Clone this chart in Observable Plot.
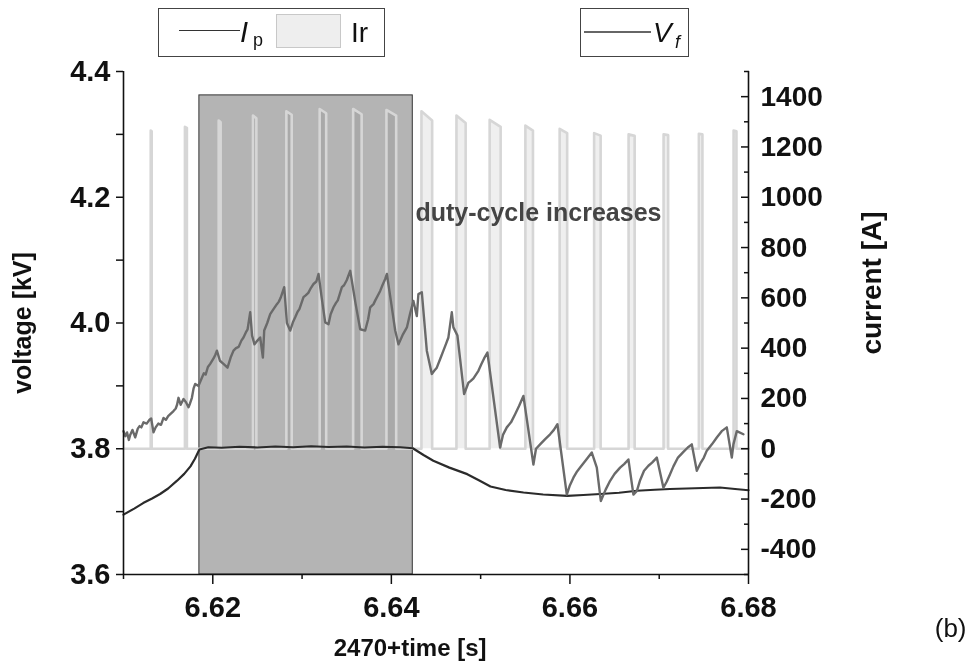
<!DOCTYPE html>
<html>
<head>
<meta charset="utf-8">
<script src="https://cdn.jsdelivr.net/npm/d3@7"></script>
<script src="https://cdn.jsdelivr.net/npm/@observablehq/plot@0.6"></script>
<style>
  body { margin: 0; background: #fff; }
  #wrap { position: relative; width: 978px; height: 670px; font-family: "Liberation Sans", Arial, sans-serif; }
  #legend { position: relative; width: 978px; height: 62px; }
  #legend .a { position: absolute; line-height: 1; white-space: nowrap; color: #111; }
  #legend .box { position: absolute; box-sizing: border-box; border: 1px solid #444; }
</style>
</head>
<body>
<div id="wrap">
  <div id="legend">
    <div class="box" style="left:158px;top:8px;width:227px;height:49px"></div>
    <div class="a" style="left:179px;top:30px;width:61px;border-top:1.5px solid #333"></div>
    <div class="a" style="left:240px;top:18px;font-size:29px;font-style:italic">I</div>
    <div class="a" style="left:253px;top:31px;font-size:18px">p</div>
    <div class="a" style="left:276px;top:14px;width:65px;height:34px;box-sizing:border-box;background:#eeeeee;border:1px solid #c8c8c8"></div>
    <div class="a" style="left:351px;top:19px;font-size:28px">Ir</div>
    <div class="box" style="left:580px;top:8px;width:109px;height:49px"></div>
    <div class="a" style="left:584px;top:31px;width:67px;border-top:2px solid #666"></div>
    <div class="a" style="left:653px;top:19px;font-size:28px;font-style:italic">V</div>
    <div class="a" style="left:675px;top:33px;font-size:18px;font-style:italic">f</div>
  </div>
  <div id="chart"></div>
</div>
<script>
// ---- axes ----
const xDomain = [6.61, 6.68];
const vDomain = [3.6, 4.4];
const xTicks = [6.62, 6.64, 6.66, 6.68];
const xMinorTicks = [6.61, 6.63, 6.65, 6.67];
const vTicks = [3.6, 3.8, 4.0, 4.2, 4.4];
const vMinorTicks = [3.7, 3.9, 4.1, 4.3];
const cTicks = [-400, -200, 0, 200, 400, 600, 800, 1000, 1200, 1400];
const cMinorTicks = [-500, -300, -100, 100, 300, 500, 700, 900, 1100, 1300, 1500];
// current axis: 0 A at 3.8 kV, 2500 A per kV
const cZeroKV = 3.8;
const ampPerKV = 2500;

// ---- shaded interval ----
const shadedStart = 6.6185;
const shadedEnd = 6.6424;
const shadedTopA = 1405;

// ---- Vf (kV) ----
const vfTime = [6.61000, 6.61020, 6.61040, 6.61060, 6.61075, 6.61100, 6.61131, 6.61160, 6.61180, 6.61200, 6.61224, 6.61260, 6.61291, 6.61310, 6.61336, 6.61360, 6.61390, 6.61420, 6.61448, 6.61475, 6.61500, 6.61530, 6.61560, 6.61585, 6.61600, 6.61616, 6.61640, 6.61672, 6.61700, 6.61728, 6.61745, 6.61766, 6.61785, 6.61803, 6.61840, 6.61878, 6.61900, 6.61920, 6.61945, 6.61971, 6.62010, 6.62030, 6.62046, 6.62080, 6.62120, 6.62165, 6.62200, 6.62232, 6.62260, 6.62290, 6.62320, 6.62344, 6.62370, 6.62390, 6.62419, 6.62440, 6.62467, 6.62500, 6.62531, 6.62561, 6.62576, 6.62610, 6.62643, 6.62680, 6.62718, 6.62740, 6.62760, 6.62800, 6.62830, 6.62867, 6.62900, 6.62923, 6.62950, 6.62970, 6.63016, 6.63040, 6.63070, 6.63100, 6.63128, 6.63160, 6.63184, 6.63220, 6.63259, 6.63296, 6.63320, 6.63352, 6.63380, 6.63400, 6.63446, 6.63470, 6.63500, 6.63539, 6.63600, 6.63651, 6.63707, 6.63740, 6.63763, 6.63800, 6.63820, 6.63875, 6.63900, 6.63931, 6.63950, 6.64000, 6.64043, 6.64080, 6.64130, 6.64174, 6.64210, 6.64247, 6.64285, 6.64303, 6.64341, 6.64397, 6.64453, 6.64480, 6.64509, 6.64550, 6.64583, 6.64610, 6.64639, 6.64677, 6.64695, 6.64740, 6.64815, 6.64863, 6.64890, 6.64920, 6.64975, 6.65010, 6.65040, 6.65076, 6.65218, 6.65250, 6.65293, 6.65340, 6.65386, 6.65430, 6.65479, 6.65591, 6.65620, 6.65666, 6.65720, 6.65778, 6.65820, 6.65860, 6.65965, 6.66000, 6.66039, 6.66080, 6.66114, 6.66180, 6.66245, 6.66301, 6.66346, 6.66400, 6.66450, 6.66500, 6.66562, 6.66610, 6.66655, 6.66711, 6.66750, 6.66786, 6.66830, 6.66879, 6.66920, 6.66973, 6.67047, 6.67085, 6.67120, 6.67159, 6.67210, 6.67271, 6.67320, 6.67365, 6.67421, 6.67466, 6.67500, 6.67533, 6.67590, 6.67645, 6.67700, 6.67757, 6.67813, 6.67831, 6.67869, 6.67943, 6.67996];
const vfKV = [3.828, 3.820, 3.826, 3.814, 3.822, 3.830, 3.818, 3.832, 3.836, 3.834, 3.842, 3.840, 3.846, 3.848, 3.826, 3.834, 3.840, 3.838, 3.849, 3.846, 3.852, 3.856, 3.860, 3.864, 3.870, 3.881, 3.870, 3.879, 3.874, 3.866, 3.872, 3.881, 3.896, 3.903, 3.900, 3.913, 3.920, 3.918, 3.930, 3.935, 3.944, 3.950, 3.956, 3.940, 3.935, 3.929, 3.945, 3.956, 3.960, 3.962, 3.972, 3.977, 3.985, 3.990, 4.017, 3.980, 3.966, 3.972, 3.977, 3.945, 3.988, 4.000, 4.014, 4.022, 4.030, 4.034, 4.040, 4.057, 4.000, 3.988, 4.002, 4.009, 4.018, 4.022, 4.041, 4.044, 4.048, 4.056, 4.062, 4.066, 4.078, 4.040, 4.001, 3.998, 4.014, 4.025, 4.032, 4.036, 4.057, 4.060, 4.068, 4.083, 4.030, 3.990, 3.988, 4.006, 4.025, 4.030, 4.036, 4.051, 4.060, 4.070, 4.078, 4.030, 3.988, 3.966, 3.982, 3.993, 4.015, 4.035, 4.011, 4.046, 4.049, 3.956, 3.919, 3.924, 3.929, 3.944, 3.956, 3.966, 3.977, 4.017, 3.993, 3.980, 3.887, 3.905, 3.908, 3.912, 3.924, 3.935, 3.944, 3.953, 3.802, 3.822, 3.834, 3.842, 3.855, 3.868, 3.884, 3.775, 3.800, 3.807, 3.815, 3.823, 3.830, 3.839, 3.727, 3.742, 3.754, 3.764, 3.770, 3.782, 3.794, 3.770, 3.717, 3.735, 3.749, 3.760, 3.770, 3.776, 3.783, 3.727, 3.733, 3.750, 3.765, 3.773, 3.778, 3.786, 3.738, 3.748, 3.759, 3.772, 3.786, 3.795, 3.802, 3.807, 3.765, 3.778, 3.786, 3.797, 3.807, 3.818, 3.828, 3.834, 3.786, 3.807, 3.828, 3.823];

// ---- Ip (A) ----
const ipTime = [6.6100, 6.6112, 6.6122, 6.6132, 6.6141, 6.6150, 6.6160, 6.6168, 6.6175, 6.6180, 6.6185, 6.6195, 6.6210, 6.6230, 6.6250, 6.6270, 6.6290, 6.6310, 6.6330, 6.6350, 6.6370, 6.6390, 6.6410, 6.6424, 6.6436, 6.6447, 6.6465, 6.6485, 6.6498, 6.6511, 6.6528, 6.6548, 6.6570, 6.6597, 6.6615, 6.6634, 6.6655, 6.6675, 6.6695, 6.6712, 6.6740, 6.6768, 6.6785, 6.6800];
const ipAmp = [-262, -238, -216, -198, -180, -158, -127, -100, -70, -40, -3, 6, 4, 8, 5, 9, 6, 10, 7, 9, 5, 8, 6, 2, -25, -48, -75, -101, -125, -150, -164, -174, -182, -187, -184, -180, -175, -167, -163, -160, -157, -154, -160, -165];

// ---- Ir pulses (A) ----
const pulseRise = [6.61305, 6.61688, 6.62066, 6.62450, 6.62824, 6.63197, 6.63572, 6.63945, 6.64337, 6.64729, 6.65101, 6.65501, 6.65885, 6.66271, 6.66657, 6.67049, 6.67444, 6.67833];
const pulseFall = [6.61316, 6.61710, 6.62088, 6.62488, 6.62884, 6.63270, 6.63667, 6.64054, 6.64457, 6.64832, 6.65224, 6.65586, 6.65969, 6.66344, 6.66725, 6.67100, 6.67484, 6.67865];
const pulsePeakA = [1265, 1280, 1305, 1325, 1342, 1351, 1351, 1347, 1342, 1325, 1308, 1285, 1272, 1255, 1250, 1250, 1252, 1265];
const pulseEndA = [1262, 1276, 1298, 1314, 1328, 1334, 1330, 1325, 1305, 1295, 1280, 1265, 1255, 1245, 1244, 1247, 1250, 1262];

const annotation = "duty-cycle increases";
const annotationAt = {t: 6.6427, v: 4.175};

// ---- build tables ----
const toKV = a => cZeroKV + a / ampPerKV;
const vf = vfTime.map((t, i) => ({t, v: vfKV[i]}));
const ip = ipTime.map((t, i) => ({t, v: toKV(ipAmp[i])}));
const ir = [{t: xDomain[0], v: toKV(0)}];
pulseRise.forEach((r, i) => {
  ir.push({t: r, v: toKV(0)}, {t: r, v: toKV(pulsePeakA[i])}, {t: pulseFall[i], v: toKV(pulseEndA[i])}, {t: pulseFall[i], v: toKV(0)});
});
ir.push({t: xDomain[1], v: toKV(0)});

const font = "'Liberation Sans', Arial, sans-serif";
const tickFont = 29;
const chart = Plot.plot({
  width: 978,
  height: 608,
  marginTop: 9,
  marginBottom: 96,
  marginLeft: 123,
  marginRight: 230,
  style: {fontFamily: font, fontWeight: "bold", fontSize: "26px", color: "#111", background: "#fff", overflow: "visible"},
  x: {domain: xDomain},
  y: {domain: vDomain},
  marks: [
    Plot.rect([{x1: shadedStart, x2: shadedEnd, y1: vDomain[0], y2: toKV(shadedTopA)}], {x1: "x1", x2: "x2", y1: "y1", y2: "y2", fill: "#b4b4b4", stroke: "#333", strokeWidth: 1}),
    Plot.areaY(ir, {x: "t", y1: toKV(0), y2: "v", fill: "#efefef", mixBlendMode: "multiply"}),
    Plot.line(ir, {x: "t", y: "v", stroke: "#d6d6d6", strokeWidth: 2.6, strokeLinejoin: "round"}),
    Plot.line(ip, {x: "t", y: "v", stroke: "#2b2b2b", strokeWidth: 2.2}),
    Plot.line(vf, {x: "t", y: "v", stroke: "#6a6a6a", strokeWidth: 2.4, strokeLinejoin: "round"}),
    Plot.text([annotation], {x: annotationAt.t, y: annotationAt.v, text: d => d, textAnchor: "start", fill: "#444", fontSize: 25}),
    Plot.ruleX(xDomain, {stroke: "#111", strokeWidth: 1.6}),
    Plot.ruleY([vDomain[0]], {stroke: "#111", strokeWidth: 1.6}),
    Plot.axisX({ticks: xTicks, tickSize: 10, tickPadding: 12, tickFormat: d3.format(".2f"), label: null, strokeWidth: 1.5, fontSize: tickFont}),
    Plot.axisX({ticks: xMinorTicks, tickSize: 5, tickFormat: () => "", label: null, strokeWidth: 1.5}),
    Plot.axisY({anchor: "left", ticks: vTicks, tickSize: 7, tickPadding: 6, tickFormat: d3.format(".1f"), label: null, strokeWidth: 1.5, fontSize: tickFont}),
    Plot.axisY({anchor: "left", ticks: vMinorTicks, tickSize: 7, tickFormat: () => "", label: null, strokeWidth: 1.5}),
    Plot.axisY({anchor: "right", ticks: cTicks.map(toKV), tickSize: -8, tickPadding: 20, tickFormat: v => String(Math.round((v - cZeroKV) * ampPerKV)), label: null, strokeWidth: 1.5, fontSize: 28}),
    Plot.axisY({anchor: "right", ticks: cMinorTicks.map(toKV), tickSize: -5, tickFormat: () => "", label: null, strokeWidth: 1.5}),
    Plot.text(["voltage [kV]"], {text: d => d, frameAnchor: "left", textAnchor: "middle", rotate: -90, dx: -101, fontSize: 25}),
    Plot.text(["current [A]"], {text: d => d, frameAnchor: "right", textAnchor: "middle", rotate: -90, dx: 124, dy: -40, fontSize: 28}),
    Plot.text(["2470+time [s]"], {x: 6.6421, text: d => d, frameAnchor: "bottom", dy: 81, fontSize: 24}),
    Plot.text(["(b)"], {text: d => d, frameAnchor: "bottom-right", textAnchor: "end", dx: 218, dy: 62, fontSize: 26, fontWeight: "normal"})
  ]
});
document.getElementById("chart").appendChild(chart);
</script>
</body>
</html>
